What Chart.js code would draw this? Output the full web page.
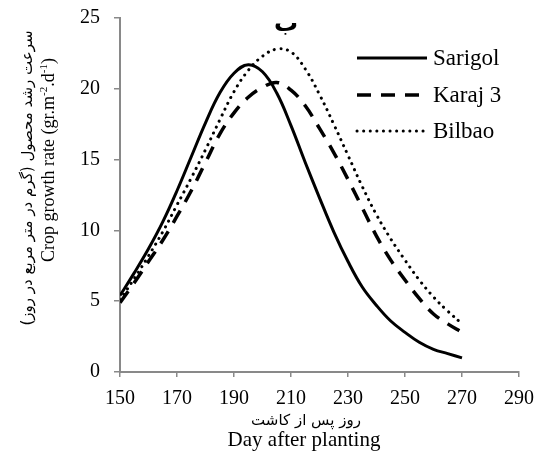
<!DOCTYPE html>
<html>
<head>
<meta charset="utf-8">
<script src="https://cdn.jsdelivr.net/npm/chart.js@4"></script>
<style>
  body { margin: 0; background: #fff; }
  #wrap { width: 535px; height: 454px; }
</style>
</head>
<body>
<div id="wrap"><canvas id="myChart" width="535" height="454"></canvas></div>
<script>
// days after planting
const days = [150, 155, 160, 165, 170, 175, 180, 185, 190, 195, 200, 205, 210,
              215, 220, 225, 230, 235, 240, 245, 250, 255, 260, 265, 270];
// crop growth rate
const sarigol = [5.4, 7.0, 8.7, 10.6, 12.8, 15.2, 17.6, 19.7, 21.1, 21.7, 21.2, 19.7, 17.4,
                 14.8, 12.3, 9.9, 7.8, 6.0, 4.7, 3.6, 2.8, 2.1, 1.6, 1.3, 1.0];
const karaj3 = [4.9, 6.3, 7.8, 9.3, 11.0, 12.8, 14.8, 16.8, 18.3, 19.4, 20.1, 20.45, 19.9,
                18.8, 17.2, 15.5, 13.6, 11.6, 9.6, 7.9, 6.5, 5.2, 4.1, 3.4, 2.8];
const bilbao = [5.1, 6.6, 8.2, 9.9, 11.8, 13.7, 15.7, 17.8, 19.8, 21.3, 22.3, 22.8, 22.6,
                21.4, 19.6, 17.5, 15.3, 13.1, 11.1, 9.4, 7.9, 6.5, 5.3, 4.3, 3.4];
const seriesNames = ['Sarigol', 'Karaj 3', 'Bilbao'];

const axisColor = '#898989';
const serif = '"Liberation Serif", "Times New Roman", serif';

function points(vals) {
    return days.map((d, i) => ({ x: d, y: vals[i] }));
}

// axis titles, panel letter and legend drawn on top
const extras = {
    id: 'extras',
    afterDraw(chart) {
        const ctx = chart.ctx;
        ctx.save();
        ctx.fillStyle = '#000';
        ctx.textAlign = 'center';
        ctx.textBaseline = 'middle';

        // y titles
        ctx.save();
        ctx.translate(28, 178);
        ctx.rotate(-Math.PI / 2);
        ctx.font = '15px "DejaVu Sans"';
        ctx.fillText('سرعت رشد محصول (گرم در متر مربع در روز)\u200F', 0, 0);
        ctx.restore();

        ctx.save();
        ctx.translate(49, 160);
        ctx.rotate(-Math.PI / 2);
        const parts = [['Crop growth rate (gr.m', 0], ['-2', 1], ['.d', 0], ['-1', 1], [')', 0]];
        const big = '18px ' + serif, small = '11px ' + serif;
        let total = 0;
        parts.forEach(p => { ctx.font = p[1] ? small : big; total += ctx.measureText(p[0]).width; });
        let x = -total / 2;
        ctx.textAlign = 'left';
        parts.forEach(p => {
            ctx.font = p[1] ? small : big;
            ctx.fillText(p[0], x, p[1] ? -5 : 0);
            x += ctx.measureText(p[0]).width;
        });
        ctx.restore();

        // x titles
        ctx.textAlign = 'center';
        ctx.font = '15px "DejaVu Sans"';
        ctx.fillText('روز پس از کاشت', 306, 421);
        ctx.font = '21px ' + serif;
        ctx.fillText('Day after planting', 304, 440);

        // panel letter
        ctx.font = 'bold 24px "DejaVu Sans"';
        ctx.textBaseline = 'alphabetic';
        ctx.fillText('ب', 286, 31);
        ctx.textBaseline = 'middle';

        // legend
        const rows = [58, 95, 131];
        chart.data.datasets.forEach((ds, i) => {
            ctx.save();
            ctx.strokeStyle = ds.borderColor;
            ctx.lineWidth = ds.borderWidth;
            ctx.lineCap = ds.borderCapStyle || 'butt';
            ctx.setLineDash(ds.borderDash || []);
            ctx.beginPath();
            ctx.moveTo(357, rows[i]);
            ctx.lineTo(427, rows[i]);
            ctx.stroke();
            ctx.restore();
            ctx.textAlign = 'left';
            ctx.font = '23px ' + serif;
            ctx.fillText(ds.label, 433, rows[i] + 1);
        });
        ctx.restore();
    }
};

const ctx = document.getElementById('myChart').getContext('2d');
let myChart = new Chart(ctx, {
    type: 'line',
    data: {
        datasets: [
            {
                label: seriesNames[0],
                data: points(sarigol),
                borderColor: '#000',
                borderWidth: 3,
                pointRadius: 0,
                tension: 0.4
            },
            {
                label: seriesNames[1],
                data: points(karaj3),
                borderColor: '#000',
                borderWidth: 3.5,
                borderDash: [14, 10],
                pointRadius: 0,
                tension: 0.4
            },
            {
                label: seriesNames[2],
                data: points(bilbao),
                borderColor: '#000',
                borderWidth: 3,
                borderDash: [0.1, 6.5],
                borderCapStyle: 'round',
                pointRadius: 0,
                tension: 0.4
            }
        ]
    },
    options: {
        responsive: false,
        animation: false,
        layout: { padding: { left: 60, top: 18, right: 16, bottom: 0 } },
        plugins: {
            legend: { display: false },
            tooltip: { enabled: false }
        },
        scales: {
            x: {
                type: 'linear',
                min: 150,
                max: 290,
                afterFit(scale) {
                    scale.height = 82;
                    scale.paddingLeft = 0;
                    scale.paddingRight = 0;
                },
                ticks: { stepSize: 20, color: '#000', font: { family: serif, size: 20 }, padding: 10, maxRotation: 0 },
                grid: { drawOnChartArea: false, tickLength: 5, color: axisColor, lineWidth: 1.5 },
                border: { color: axisColor, width: 2 }
            },
            y: {
                min: 0,
                max: 25,
                afterFit(scale) {
                    scale.width = 60;
                    scale.paddingTop = 0;
                    scale.paddingBottom = 0;
                },
                ticks: { stepSize: 5, color: '#000', font: { family: serif, size: 20 }, padding: 14 },
                grid: { drawOnChartArea: false, tickLength: 6, color: axisColor, lineWidth: 1.5 },
                border: { color: axisColor, width: 2 }
            }
        }
    },
    plugins: [extras]
});
</script>
</body>
</html>
